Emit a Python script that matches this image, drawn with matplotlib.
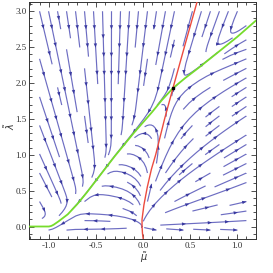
import numpy as np
import matplotlib
matplotlib.use('Agg')
import matplotlib.pyplot as plt
from matplotlib.patches import FancyArrowPatch

# ---- data ----
green_mu = [-1.21, -1.0, -0.975, -0.95, -0.9, -0.8, -0.7, -0.6, -0.5, -0.4, -0.3, -0.2, -0.1, 0.0, 0.1, 0.2, 0.32, 0.45, 0.6, 0.8, 1.0, 1.21]
green_lam = [0.0, 0.0, 0.008, 0.025, 0.07, 0.17, 0.31, 0.47, 0.64, 0.81, 0.98, 1.14, 1.3, 1.45, 1.6, 1.76, 1.93, 2.07, 2.22, 2.43, 2.64, 2.88]
red_lam = [-0.18, -0.1, 0.0, 0.1, 0.3, 0.55, 0.8, 1.0, 1.5, 1.93, 2.5, 3.13]
red_mu = [0.003, -0.005, -0.01, -0.01, 0.01, 0.046, 0.09, 0.135, 0.23, 0.319, 0.44, 0.575]
fp_mu = [0.319]
fp_lam = [1.93]
xticks = [-1.0, -0.5, 0.0, 0.5, 1.0]
xticklabels = ['-1.0', '-0.5', '0.0', '0.5', '1.0']
yticks = [0.0, 0.5, 1.0, 1.5, 2.0, 2.5, 3.0]
yticklabels = ['0.0', '0.5', '1.0', '1.5', '2.0', '2.5', '3.0']
xlim = (-1.21, 1.2)
ylim = (-0.18, 3.13)
stream_x = (-1.1, 1.1)
stream_y = (-0.05, 3.0)

# ---- model direction field built around the two separatrices ----
xs = np.linspace(stream_x[0], stream_x[1], 240)
ys = np.linspace(stream_y[0], stream_y[1], 240)
X, Y = np.meshgrid(xs, ys)
yg_line = np.interp(xs, green_mu, green_lam)
sl = np.gradient(yg_line, xs)
k = np.ones(9) / 9
sl = np.convolve(np.pad(sl, 4, mode='edge'), k, mode='valid')
G1 = np.interp(X, xs, sl)
dg = Y - np.interp(X, green_mu, green_lam)
dr = X - np.interp(Y, red_lam, red_mu)
alpha, beta, gamma = 1.0, 0.4, 3.0
sig = 0.15
phi = np.exp(-(dg / sig) ** 2)
xf, y0 = -0.34, -1.2
uA = gamma * dg * (xf - X) / (Y - y0) + alpha * dr * phi
vA = -gamma * dg + G1 * alpha * dr * phi
uB = alpha * dr
vB = -beta * dg * Y + G1 * alpha * dr * phi
w = 1.0 / (1.0 + np.exp(-np.clip(dg / 0.03, -50, 50)))
U = w * uA + (1 - w) * uB
V = w * vA + (1 - w) * vB

fig = plt.figure(figsize=(2.73, 2.73), dpi=100)
ax = fig.add_axes([0.107, 0.123, 0.830, 0.870])
ax.set_xlim(*xlim)
ax.set_ylim(*ylim)

line_col = '#6d6dc2'
head_col = '#3a3aa0'
n_before = len(ax.patches)
sp = ax.streamplot(xs, ys, U, V, density=0.82, color=line_col, linewidth=0.85,
                   arrowsize=0.5, minlength=0.06)
for p in list(ax.patches)[n_before:]:
    p.remove()

# each streamline and small arrowheads placed along it
lines = [np.asarray(s) for s in sp.lines.get_segments()]

fig.canvas.draw()
step_px = 22.0
for ln in lines:
    if len(ln) < 2:
        continue
    disp = ax.transData.transform(ln)
    d = np.r_[0, np.cumsum(np.hypot(*np.diff(disp, axis=0).T))]
    total = d[-1]
    if total < 8:
        continue
    n = max(1, int(total // step_px))
    offs = (total - (n - 1) * step_px) / 2.0
    for i in range(n):
        t = offs + i * step_px
        j = int(np.searchsorted(d, t))
        j = min(max(j, 1), len(d) - 1)
        pB = ln[j]
        pA = ln[j - 1]
        if np.allclose(pA, pB):
            continue
        arr = FancyArrowPatch(posA=tuple(pA), posB=tuple(pB),
                              arrowstyle='-|>,head_length=0.55,head_width=0.22',
                              mutation_scale=5.5, color=head_col, lw=0,
                              shrinkA=0, shrinkB=0, zorder=3)
        ax.add_patch(arr)

ax.plot(green_mu, green_lam, color='#76dc2c', lw=1.3, zorder=5)
ax.plot(red_mu, red_lam, color='#ec4b3f', lw=1.0, zorder=6)
ax.plot(fp_mu, fp_lam, 's', color='black', ms=1.5, zorder=7)

serif = 'Liberation Serif'
ax.set_xticks(xticks)
ax.set_xticklabels(xticklabels, family=serif, fontsize=6.5, color='#333333')
ax.set_yticks(yticks)
ax.set_yticklabels(yticklabels, family=serif, fontsize=6.5, color='#333333')
ax.set_xticks(np.arange(-1.2, 1.21, 0.1), minor=True)
ax.set_yticks(np.arange(-0.1, 3.11, 0.1), minor=True)
ax.tick_params(which='both', direction='in', top=True, right=True, color='#333333', width=0.6)
ax.tick_params(which='major', length=3.5, pad=2)
ax.tick_params(which='minor', length=2)
for s in ax.spines.values():
    s.set_color('#333333')
    s.set_linewidth(0.7)
fig.text(0.527, 0.055, r'$\tilde{\mu}$', ha='center', va='center', fontsize=7, color='#333333')
fig.text(0.036, 0.54, r'$\tilde{\lambda}$', ha='center', va='center', fontsize=7, rotation=90, color='#333333')
fig.savefig('out.png', dpi=100)
